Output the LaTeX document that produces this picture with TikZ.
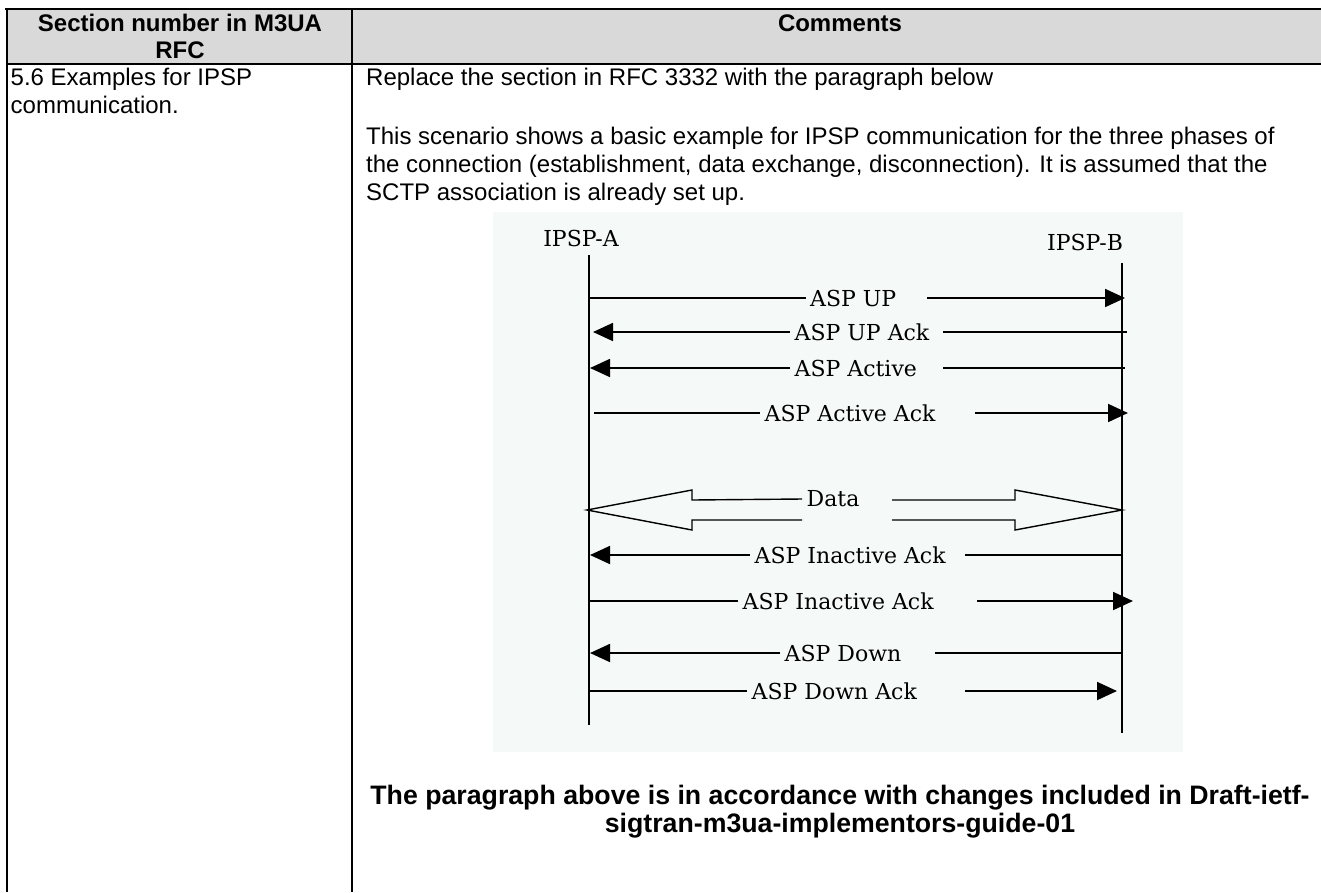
\documentclass[tikz,border=0pt]{standalone}
\usepackage{fontspec}
\setmainfont{Liberation Sans}
\newfontfamily\diagfont{DejaVu Serif}
\usetikzlibrary{arrows.meta}
\definecolor{headgray}{RGB}{217,217,217}
\definecolor{diagbg}{RGB}{245,249,247}
\begin{document}
\begin{tikzpicture}[x=1pt,y=-1pt,
  txt/.style={inner sep=0pt, anchor=base west, font=\fontsize{24}{27.6}\selectfont},
  hdr/.style={inner sep=0pt, anchor=base, font=\fontsize{24}{27.6}\selectfont\bfseries},
  foot/.style={inner sep=0pt, anchor=base, font=\fontsize{26.7}{30}\selectfont\bfseries},
  rulel/.style={line width=2pt},
  lbl/.style={inner xsep=4.5pt, inner ysep=0pt, anchor=west, font=\diagfont\fontsize{22}{26}\selectfont},
  life/.style={line width=1.8pt},
  msg/.style={line width=1.8pt},
  tip/.style={-{Triangle[length=20pt,width=18pt]}},
  hollow/.style={line width=1.4pt, line join=miter}]
\useasboundingbox (0,0) rectangle (1321,892);
\fill[white] (0,0) rectangle (1321,892);
% table
\fill[headgray] (7,9) rectangle (1321,64);
\draw[rulel] (5,9) -- (1321,9);
\draw[rulel] (7,64) -- (1321,64);
\draw[rulel] (7,8) -- (7,892);
\draw[rulel] (352,8) -- (352,892);
\node[hdr] (h1) at (180,31) {Section number in M3UA};
\node[hdr] (h2) at (180,58) {RFC};
\node[hdr] (h3) at (840,31) {Comments};
\node[txt] (c1) at (10.5,85) {5.6 Examples for IPSP};
\node[txt] (c2) at (10.5,113) {communication.};
\node[txt] (t1) at (366,85) {Replace the section in RFC 3332 with the paragraph below};
\node[txt] (t2) at (366,144) {This scenario shows a basic example for IPSP communication for the three phases of};
\node[txt] (t3) at (366,172) {the connection (establishment, data exchange, disconnection). It is assumed that the};
\node[txt] (t4) at (366,200) {SCTP association is already set up.};
\node[foot] (f1) at (840,804) {The paragraph above is in accordance with changes included in Draft-ietf-};
\node[foot] (f2) at (840,832) {sigtran-m3ua-implementors-guide-01};
% diagram
\fill[diagbg] (493,212) rectangle (1183,752);
\node[inner sep=0pt, font=\diagfont\fontsize{22}{26}\selectfont] (IA) at (581,238) {IPSP-A};
\node[inner sep=0pt, font=\diagfont\fontsize{22}{26}\selectfont] (IB) at (1085,242) {IPSP-B};
\coordinate (Atop) at (589,255); \coordinate (Abot) at (589,725);
\coordinate (Btop) at (1122,263); \coordinate (Bbot) at (1122,733);
\draw[life] (Atop) -- (Abot);
\draw[life] (Btop) -- (Bbot);
% 1 ASP UP
\coordinate (a1) at (589,298); \coordinate (r1) at (927,298); \coordinate (b1) at (1125,298);
\node[lbl] (l1) at (805.5,298) {ASP UP};
\draw[msg] (a1) -- (l1.west); \draw[msg,tip] (r1) -- (b1);
% 2 ASP UP Ack
\coordinate (a2) at (593,332); \coordinate (r2) at (943,332); \coordinate (b2) at (1127,332);
\node[lbl] (l2) at (790,332) {ASP UP Ack};
\draw[msg,tip] (l2.west) -- (a2); \draw[msg] (r2) -- (b2);
% 3 ASP Active
\coordinate (a3) at (590,368); \coordinate (r3) at (943,368); \coordinate (b3) at (1125,368);
\node[lbl] (l3) at (790,368) {ASP Active};
\draw[msg,tip] (l3.west) -- (a3); \draw[msg] (r3) -- (b3);
% 4 ASP Active Ack
\coordinate (a4) at (594,413); \coordinate (r4) at (975,413); \coordinate (b4) at (1128,413);
\node[lbl] (l4) at (760,413) {ASP Active Ack};
\draw[msg] (a4) -- (l4.west); \draw[msg,tip] (r4) -- (b4);
% 5 Data
\node[lbl] (l5) at (802,499) {Data};
\coordinate (dL) at (587,510); \coordinate (dR) at (1122,510);
\draw[hollow] (l5.west) -- (692,500) -- (692,490) -- (dL) -- (692,530) -- (692,520) -- (802,520);
\coordinate (r5) at (892,500);
\draw[hollow] (r5) -- (1015,500) -- (1015,490) -- (dR) -- (1015,530) -- (1015,520) -- (892,520);
% 6 ASP Inactive Ack (left)
\coordinate (a6) at (590,555); \coordinate (r6) at (965,555); \coordinate (b6) at (1122,555);
\node[lbl] (l6) at (750,555) {ASP Inactive Ack};
\draw[msg,tip] (l6.west) -- (a6); \draw[msg] (r6) -- (b6);
% 7 ASP Inactive Ack (right)
\coordinate (a7) at (589,601); \coordinate (r7) at (977,601); \coordinate (b7) at (1133,601);
\node[lbl] (l7) at (738,601) {ASP Inactive Ack};
\draw[msg] (a7) -- (l7.west); \draw[msg,tip] (r7) -- (b7);
% 8 ASP Down
\coordinate (a8) at (590,653); \coordinate (r8) at (935,653); \coordinate (b8) at (1122,653);
\node[lbl] (l8) at (780,653) {ASP Down};
\draw[msg,tip] (l8.west) -- (a8); \draw[msg] (r8) -- (b8);
% 9 ASP Down Ack
\coordinate (a9) at (589,691); \coordinate (r9) at (965,691); \coordinate (b9) at (1117,691);
\node[lbl] (l9) at (747,691) {ASP Down Ack};
\draw[msg] (a9) -- (l9.west); \draw[msg,tip] (r9) -- (b9);
\end{tikzpicture}
\end{document}
